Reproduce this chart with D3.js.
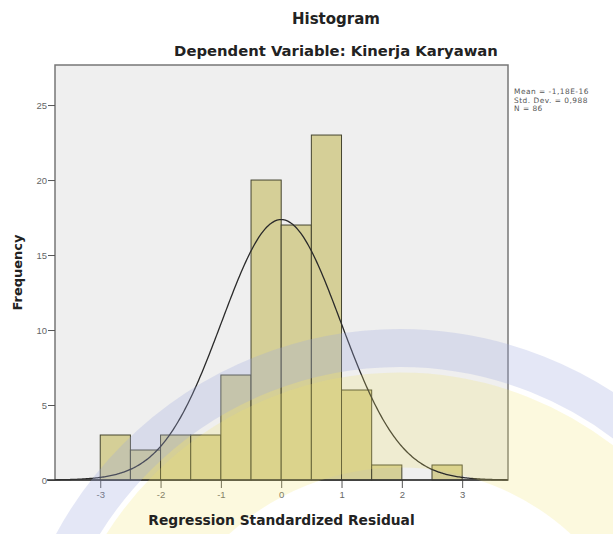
<!DOCTYPE html>
<html>
<head>
<meta charset="utf-8">
<script src="https://cdn.jsdelivr.net/npm/d3@7"></script>
<style>
  body { margin: 0; background: #fff; }
  svg { display: block; }
  .tick text { font-family: "Liberation Sans", Arial, sans-serif; font-size: 9.5px; fill: #666; }
  .tick line { stroke: #555; }
</style>
</head>
<body>
<svg width="613" height="534"></svg>
<script>
// histogram bins (lower edge) and counts
var binStarts = [-3, -2.5, -2, -1.5, -1, -0.5, 0, 0.5, 1, 1.5, 2, 2.5];
var counts = [3, 2, 3, 3, 7, 20, 17, 23, 6, 1, 0, 1];
var binWidth = 0.5;
// fitted normal parameters
var mean = -1.18e-16, stdDev = 0.988, n = 86;
var xTicks = [-3, -2, -1, 0, 1, 2, 3];
var yTicks = [0, 5, 10, 15, 20, 25];
var statLines = ["Mean = -1,18E-16", "Std. Dev. = 0,988", "N = 86"];

var svg = d3.select("svg");

var pLeft = 55, pRight = 508, pTop = 65, pBottom = 480;

var x = d3.scaleLinear().domain([-3.75, 3.76]).range([pLeft, pRight]);
var y = d3.scaleLinear().domain([0, 27.67]).range([pBottom, pTop]);

// plot background
svg.append("rect")
    .attr("x", pLeft).attr("y", pTop)
    .attr("width", pRight - pLeft).attr("height", pBottom - pTop)
    .attr("fill", "#efefef")
    .attr("stroke", "#777")
    .attr("stroke-width", 1.5);

var bars = binStarts.map(function(b, i) { return {x0: b, x1: b + binWidth, count: counts[i]}; });

svg.append("g").selectAll("rect")
  .data(bars.filter(function(d) { return d.count > 0; }))
  .enter().append("rect")
    .attr("x", function(d) { return x(d.x0); })
    .attr("y", function(d) { return y(d.count); })
    .attr("width", function(d) { return x(d.x1) - x(d.x0); })
    .attr("height", function(d) { return y(0) - y(d.count); })
    .attr("fill", "#d5cf97")
    .attr("stroke", "#45452f")
    .attr("stroke-width", 1);

// normal curve scaled to counts
var pts = d3.range(-3.75, 3.76, 0.02).map(function(v) {
  var z = (v - mean) / stdDev;
  return [v, n * binWidth * Math.exp(-0.5 * z * z) / (stdDev * Math.sqrt(2 * Math.PI))];
});
svg.append("path")
    .datum(pts)
    .attr("fill", "none")
    .attr("stroke", "#2a2a2a")
    .attr("stroke-width", 1.3)
    .attr("d", d3.line()
        .x(function(d) { return x(d[0]); })
        .y(function(d) { return y(d[1]); }));

// axes
var xAxis = svg.append("g")
    .attr("transform", "translate(0," + pBottom + ")")
    .call(d3.axisBottom(x).tickValues(xTicks).tickSize(8).tickPadding(3).tickFormat(String));
xAxis.select(".domain").remove();

var yAxis = svg.append("g")
    .attr("transform", "translate(" + pLeft + ",0)")
    .call(d3.axisLeft(y).tickValues(yTicks).tickSize(7).tickPadding(1).tickFormat(String));
yAxis.select(".domain").remove();

svg.append("line")
    .attr("x1", pLeft - 8).attr("x2", pRight)
    .attr("y1", pBottom).attr("y2", pBottom)
    .attr("stroke", "#333").attr("stroke-width", 1.5);

// faint watermark bands over the lower part
var wm = svg.append("g").attr("pointer-events", "none");
wm.append("circle")
    .attr("cx", 400).attr("cy", 720).attr("r", 372)
    .attr("fill", "none")
    .attr("stroke", "#9fa8e0").attr("stroke-opacity", 0.28)
    .attr("stroke-width", 38);
wm.append("circle")
    .attr("cx", 400).attr("cy", 720).attr("r", 300)
    .attr("fill", "none")
    .attr("stroke", "#f2e36a").attr("stroke-opacity", 0.22)
    .attr("stroke-width", 95);

// titles
svg.append("text")
    .attr("x", 336).attr("y", 24)
    .attr("text-anchor", "middle")
    .style("font-family", "DejaVu Sans, sans-serif")
    .style("font-weight", "bold")
    .style("font-size", "15px")
    .attr("fill", "#222")
    .text("Histogram");

svg.append("text")
    .attr("x", 336).attr("y", 56)
    .attr("text-anchor", "middle")
    .style("font-family", "DejaVu Sans, sans-serif")
    .style("font-weight", "bold")
    .style("font-size", "14.8px")
    .attr("fill", "#222")
    .text("Dependent Variable: Kinerja Karyawan");

svg.append("text")
    .attr("x", (pLeft + pRight) / 2).attr("y", 525)
    .attr("text-anchor", "middle")
    .style("font-family", "DejaVu Sans, sans-serif")
    .style("font-weight", "bold")
    .style("font-size", "13.8px")
    .attr("fill", "#222")
    .text("Regression Standardized Residual");

svg.append("text")
    .attr("transform", "translate(22," + ((pTop + pBottom) / 2) + ") rotate(-90)")
    .attr("text-anchor", "middle")
    .style("font-family", "DejaVu Sans, sans-serif")
    .style("font-weight", "bold")
    .style("font-size", "13px")
    .attr("fill", "#222")
    .text("Frequency");

// stats legend
svg.append("g").selectAll("text")
  .data(statLines)
  .enter().append("text")
    .attr("x", 514)
    .attr("y", function(d, i) { return 94 + i * 8.7; })
    .style("font-family", "DejaVu Sans, sans-serif")
    .style("font-size", "7.4px")
    .style("letter-spacing", "0.5px")
    .attr("fill", "#555")
    .text(function(d) { return d; });
</script>
</body>
</html>
